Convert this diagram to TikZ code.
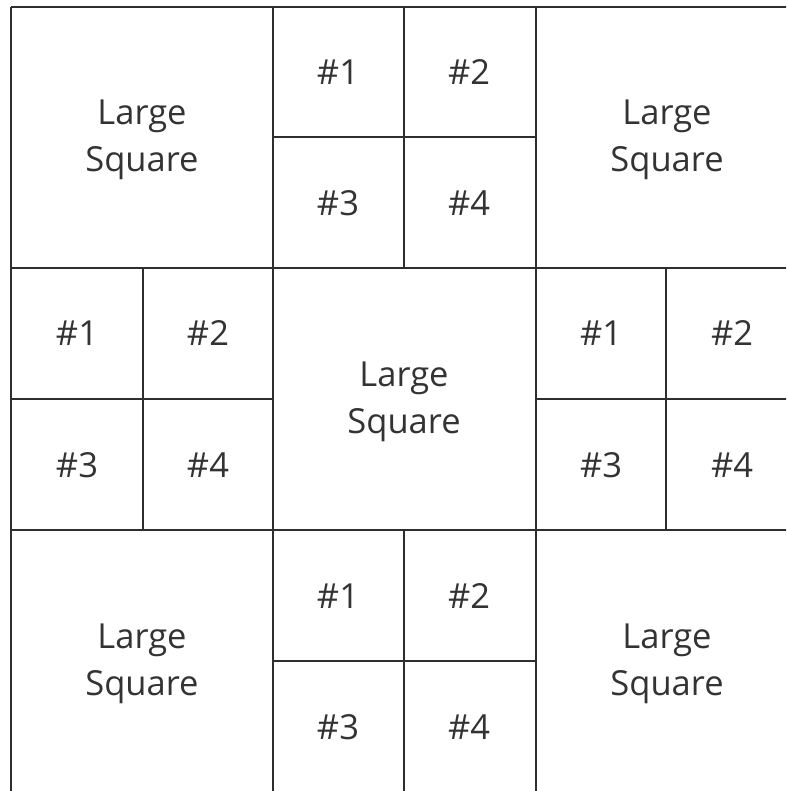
\documentclass[tikz,border=0pt]{standalone}
\usepackage{fontspec}
\setmainfont{Open Sans}
\definecolor{ink}{HTML}{2E2E2E}
\definecolor{txt}{HTML}{333333}
\begin{document}
\begin{tikzpicture}[x=1pt,y=-1pt,
  grid/.style={draw=ink,line width=2.4pt},
  lbl/.style={text=txt,align=center,inner sep=0pt,font=\fontsize{34.5}{47}\selectfont},
  lbls/.style={text=txt,inner sep=0pt,font=\fontsize{34.5}{47}\selectfont}]
\useasboundingbox (0,0) rectangle (786,791);
\begin{scope}
\clip (0,0) rectangle (786,791);
% outer frame and main 3x3 grid
\draw[grid] (11,7) -- (798,7);
\draw[grid] (11,7) -- (11,792);
\draw[draw=ink!40,line width=1pt] (11,791) -- (798,791);
\draw[grid] (273,7) -- (273,792);
\draw[grid] (536,7) -- (536,792);
\draw[grid] (11,268) -- (798,268);
\draw[grid] (11,530) -- (798,530);
% subdivisions
\draw[grid] (404,7) -- (404,268);
\draw[grid] (273,137) -- (536,137);
\draw[grid] (143,268) -- (143,530);
\draw[grid] (11,399) -- (273,399);
\draw[grid] (666,268) -- (666,530);
\draw[grid] (536,399) -- (798,399);
\draw[grid] (404,530) -- (404,791);
\draw[grid] (273,661) -- (536,661);
\end{scope}
% large squares
\node[lbl] (tl) at (142,140) {Large\\Square};
\node[lbl] (tr) at (667,140) {Large\\Square};
\node[lbl] (c) at (404,402) {Large\\Square};
\node[lbl] (bl) at (142,664) {Large\\Square};
\node[lbl] (br) at (667,664) {Large\\Square};
% small squares top
\node[lbls] (t1) at (338,72) {\#1};
\node[lbls] (t2) at (469,72) {\#2};
\node[lbls] (t3) at (338,203) {\#3};
\node[lbls] (t4) at (469,203) {\#4};
% left
\node[lbls] (l1) at (77,333) {\#1};
\node[lbls] (l2) at (208,333) {\#2};
\node[lbls] (l3) at (77,465) {\#3};
\node[lbls] (l4) at (208,465) {\#4};
% right
\node[lbls] (r1) at (601,333) {\#1};
\node[lbls] (r2) at (732,333) {\#2};
\node[lbls] (r3) at (601,465) {\#3};
\node[lbls] (r4) at (732,465) {\#4};
% bottom
\node[lbls] (b1) at (338,596) {\#1};
\node[lbls] (b2) at (469,596) {\#2};
\node[lbls] (b3) at (338,727) {\#3};
\node[lbls] (b4) at (469,727) {\#4};
\end{tikzpicture}
\end{document}
